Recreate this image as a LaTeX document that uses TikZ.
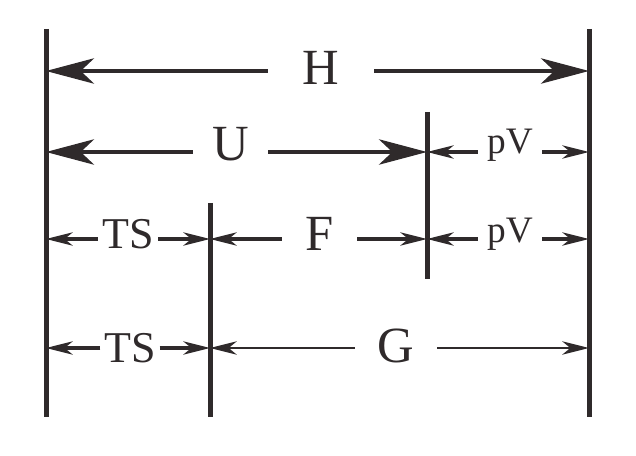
\documentclass[tikz,border=0pt]{standalone}
\usepackage{fontspec}
\setmainfont{Liberation Serif}
\usetikzlibrary{arrows.meta}
\definecolor{ink}{HTML}{2F2A2B}

\begin{document}
\begin{tikzpicture}[x=0.75pt,y=-0.75pt,
    wall/.style={ink,line width=3.75pt},
    bigarr/.style={ink,line width=3pt,-{Stealth[length=36pt,width=19pt,inset=10pt]}},
    smallarr/.style={ink,line width=2.3pt,-{Stealth[length=20pt,width=10pt,inset=6pt]}},
    lbl/.style={text=ink,inner xsep=0pt,inner ysep=0pt,text height=#1,text depth=0pt},
    big/.style={font=\fontsize{38}{42}\selectfont},
    mid/.style={font=\fontsize{33}{36}\selectfont},
    small/.style={font=\fontsize{28}{30}\selectfont}]

    \useasboundingbox (0,0) rectangle (636,456);

    % vertical walls
    \coordinate (l1) at (46,29);  \coordinate (l2) at (46,417);
    \coordinate (r1) at (589,29); \coordinate (r2) at (589,417);
    \coordinate (m1) at (210,203); \coordinate (m2) at (210,417);
    \coordinate (n1) at (427,112); \coordinate (n2) at (427,279);
    \draw[wall] (l1) -- (l2);
    \draw[wall] (r1) -- (r2);
    \draw[wall] (m1) -- (m2);
    \draw[wall] (n1) -- (n2);

    % arrow ends on the walls
    \coordinate (hl) at (46,71);   \coordinate (hr) at (589,71);
    \coordinate (ul) at (46,152);  \coordinate (ur) at (427,152);
    \coordinate (p1l) at (427,152); \coordinate (p1r) at (589,152);
    \coordinate (t1l) at (46,239); \coordinate (t1r) at (210,239);
    \coordinate (fl) at (210,239); \coordinate (fr) at (427,239);
    \coordinate (p2l) at (427,239); \coordinate (p2r) at (589,239);
    \coordinate (t2l) at (46,348); \coordinate (t2r) at (210,348);
    \coordinate (gl) at (210,348); \coordinate (gr) at (589,348);

    % H
    \node[lbl=21pt,big,minimum width=79.5pt] (H) at (321,71) {H};
    \draw[bigarr] (H) -- (hl);
    \draw[bigarr] (H) -- (hr);

    % U and pV
    \node[lbl=13.5pt,big,minimum width=56pt] (U) at (230.5,152) {U};
    \draw[bigarr] (U) -- (ul);
    \draw[bigarr] (U) -- (ur);
    \node[lbl=3pt,small,minimum width=48pt] (pV1) at (510,152) {pV};
    \draw[smallarr] (pV1) -- (p1l);
    \draw[smallarr] (pV1) -- (p1r);

    % TS, F and pV
    \node[lbl=14pt,mid,minimum width=45pt] (TS1) at (128,239) {TS};
    \draw[smallarr] (TS1) -- (t1l);
    \draw[smallarr] (TS1) -- (t1r);
    \node[lbl=18pt,big,minimum width=56pt] (F) at (319.5,239) {F};
    \draw[smallarr] (F) -- (fl);
    \draw[smallarr] (F) -- (fr);
    \node[lbl=6pt,small,minimum width=48pt] (pV2) at (510,239) {pV};
    \draw[smallarr] (pV2) -- (p2l);
    \draw[smallarr] (pV2) -- (p2r);

    % TS and G
    \node[lbl=21pt,mid,minimum width=44pt] (TS2) at (130,348) {TS};
    \draw[smallarr] (TS2) -- (t2l);
    \draw[smallarr] (TS2) -- (t2r);
    \node[lbl=21pt,big,minimum width=61.5pt] (G) at (396,348) {G};
    \draw[smallarr,line width=2.2pt] (G) -- (gl);
    \draw[smallarr,line width=2.2pt] (G) -- (gr);

\end{tikzpicture}
\end{document}
